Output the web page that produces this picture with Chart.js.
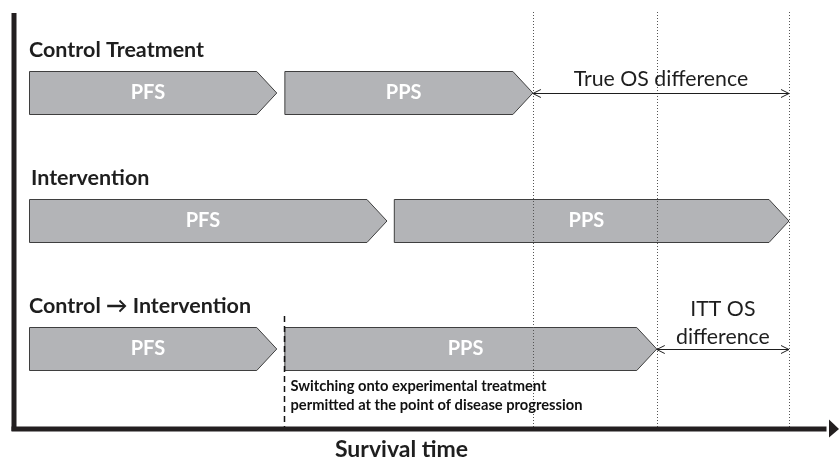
<!DOCTYPE html>
<html>
<head>
<meta charset="utf-8">
<script src="https://cdn.jsdelivr.net/npm/chart.js@4.4.0/dist/chart.umd.js"></script>
<style>
  html, body { margin: 0; padding: 0; background: #fff; }
  #wrap { width: 839px; height: 461px; }
</style>
</head>
<body>
<div id="wrap"><canvas id="chart" width="839" height="461"></canvas></div>
<script>
// righe del diagramma e tempi (unità arbitrarie di sopravvivenza)
const rows = ['Control Treatment', 'Intervention', 'Control \u2192 Intervention'];
const pfsStart = [0, 0, 0];
const pfsEnd = [32.6, 47.1, 32.6];
const ppsStart = [33.6, 48.0, 33.6];
const ppsEnd = [66.3, 100, 82.6];
const segLabels = ['PFS', 'PPS'];

const FONT = 'Lato, "Open Sans", sans-serif';
const FILL = '#b3b4b7';
const EDGE = '#3f3f3f';
const INK = '#1e1e1e';

function arrowHead(ctx, x, y, dir) {
    ctx.beginPath();
    ctx.moveTo(x - dir * 8, y - 4);
    ctx.lineTo(x, y);
    ctx.lineTo(x - dir * 8, y + 4);
    ctx.stroke();
}

function doubleArrow(ctx, x1, x2, y) {
    ctx.beginPath();
    ctx.moveTo(x1, y);
    ctx.lineTo(x2, y);
    ctx.stroke();
    arrowHead(ctx, x1, y, -1);
    arrowHead(ctx, x2, y, 1);
}

// disegna le barre come frecce "chevron"
const chevronPlugin = {
    id: 'chevrons',
    beforeDatasetDraw(chart, args) {
        const ctx = chart.ctx;
        const meta = args.meta;
        const label = segLabels[args.index];
        meta.data.forEach(bar => {
            const p = bar.getProps(['x', 'y', 'base', 'height'], true);
            const left = Math.min(p.x, p.base);
            const tip = Math.max(p.x, p.base);
            const top = p.y - p.height / 2;
            const bottom = p.y + p.height / 2;
            const body = tip - 20;
            ctx.save();
            ctx.beginPath();
            ctx.moveTo(left + 0.5, top + 0.5);
            ctx.lineTo(body, top + 0.5);
            ctx.lineTo(tip, p.y);
            ctx.lineTo(body, bottom - 0.5);
            ctx.lineTo(left + 0.5, bottom - 0.5);
            ctx.closePath();
            ctx.fillStyle = FILL;
            ctx.fill();
            ctx.strokeStyle = EDGE;
            ctx.lineWidth = 1;
            ctx.stroke();
            ctx.fillStyle = '#ffffff';
            ctx.font = 'bold 20px ' + FONT;
            ctx.textAlign = 'center';
            ctx.textBaseline = 'middle';
            ctx.fillText(label, (left + tip) / 2 - 5, p.y);
            ctx.restore();
        });
        return false;
    },
    afterDatasetsDraw(chart) {
        const ctx = chart.ctx;
        const xs = chart.scales.x;
        const ys = chart.scales.y;
        const area = chart.chartArea;
        const axisX = area.left - 15;
        const axisY = area.bottom + 16;
        const rowY = rows.map((r, i) => ys.getPixelForValue(i));
        const barH = 44;

        ctx.save();
        // titoli delle righe
        ctx.fillStyle = INK;
        ctx.font = 'bold 21.5px ' + FONT;
        ctx.textAlign = 'left';
        ctx.textBaseline = 'alphabetic';
        rows.forEach((r, i) => {
            ctx.fillText(r, area.left + (i === 1 ? 2 : 0), rowY[i] - barH / 2 - 14);
        });

        // linee verticali punteggiate
        const refX = [ppsEnd[0], ppsEnd[2], ppsEnd[1]].map(v => Math.round(xs.getPixelForValue(v)) + 0.5);
        ctx.strokeStyle = '#555555';
        ctx.lineWidth = 1;
        ctx.setLineDash([1, 2]);
        refX.forEach(x => {
            ctx.beginPath();
            ctx.moveTo(x, area.top - 17);
            ctx.lineTo(x, axisY - 2);
            ctx.stroke();
        });

        // linea tratteggiata del cambio di trattamento
        const swX = Math.round(xs.getPixelForValue(ppsStart[2])) + 0.5;
        ctx.strokeStyle = '#111111';
        ctx.lineWidth = 1.5;
        ctx.setLineDash([6, 4]);
        ctx.beginPath();
        ctx.moveTo(swX, rowY[2] - barH / 2 - 11);
        ctx.lineTo(swX, axisY - 2);
        ctx.stroke();
        ctx.setLineDash([]);

        // frecce delle differenze di OS
        ctx.strokeStyle = INK;
        ctx.lineWidth = 1;
        const y0 = Math.round(rowY[0]) + 0.5;
        const y2 = Math.round(rowY[2]) + 0.5;
        doubleArrow(ctx, xs.getPixelForValue(ppsEnd[0]), xs.getPixelForValue(ppsEnd[1]), y0);
        doubleArrow(ctx, xs.getPixelForValue(ppsEnd[2]), xs.getPixelForValue(ppsEnd[1]), y2);

        ctx.fillStyle = INK;
        ctx.font = '21.3px ' + FONT;
        ctx.textAlign = 'center';
        const mid0 = (xs.getPixelForValue(ppsEnd[0]) + xs.getPixelForValue(ppsEnd[1])) / 2;
        const mid2 = (xs.getPixelForValue(ppsEnd[2]) + xs.getPixelForValue(ppsEnd[1])) / 2;
        ctx.fillText('True OS difference', mid0, rowY[0] - 7);
        ctx.fillText('ITT OS', mid2, rowY[2] - 33);
        ctx.fillText('difference', mid2, rowY[2] - 5);

        // nota sul cambio di trattamento
        ctx.font = 'bold 14.7px ' + FONT;
        ctx.textAlign = 'left';
        ctx.fillStyle = '#111111';
        ctx.fillText('Switching onto experimental treatment', swX + 6, rowY[2] + 42);
        ctx.fillText('permitted at the point of disease progression', swX + 6, rowY[2] + 61);

        // assi
        ctx.fillStyle = '#231f20';
        ctx.fillRect(axisX - 2.5, area.top - 16, 5, axisY - area.top + 18);
        ctx.fillRect(axisX - 2.5, axisY - 2.5, 829 - axisX, 5);
        ctx.beginPath();
        ctx.moveTo(829, axisY - 9.5);
        ctx.lineTo(839, axisY);
        ctx.lineTo(829, axisY + 8.5);
        ctx.closePath();
        ctx.fill();

        ctx.fillStyle = INK;
        ctx.font = 'bold 23px ' + FONT;
        ctx.textAlign = 'center';
        ctx.fillText('Survival time', (axisX + xs.getPixelForValue(ppsEnd[1])) / 2, axisY + 28);
        ctx.restore();
    }
};

const data = {
    labels: rows,
    datasets: [
        {
            label: segLabels[0],
            data: pfsStart.map((s, i) => [s, pfsEnd[i]]),
            backgroundColor: FILL,
            barThickness: 44,
            grouped: false
        },
        {
            label: segLabels[1],
            data: ppsStart.map((s, i) => [s, ppsEnd[i]]),
            backgroundColor: FILL,
            barThickness: 44,
            grouped: false
        }
    ]
};

new Chart(document.getElementById('chart').getContext('2d'), {
    type: 'bar',
    data: data,
    options: {
        indexAxis: 'y',
        responsive: false,
        animation: false,
        devicePixelRatio: 1,
        layout: { padding: { left: 29, right: 50, top: 29, bottom: 48 } },
        scales: {
            x: { type: 'linear', min: 0, max: 100, display: false },
            y: { type: 'category', display: false }
        },
        plugins: {
            legend: { display: false },
            tooltip: { enabled: false }
        }
    },
    plugins: [chevronPlugin]
});
</script>
</body>
</html>
